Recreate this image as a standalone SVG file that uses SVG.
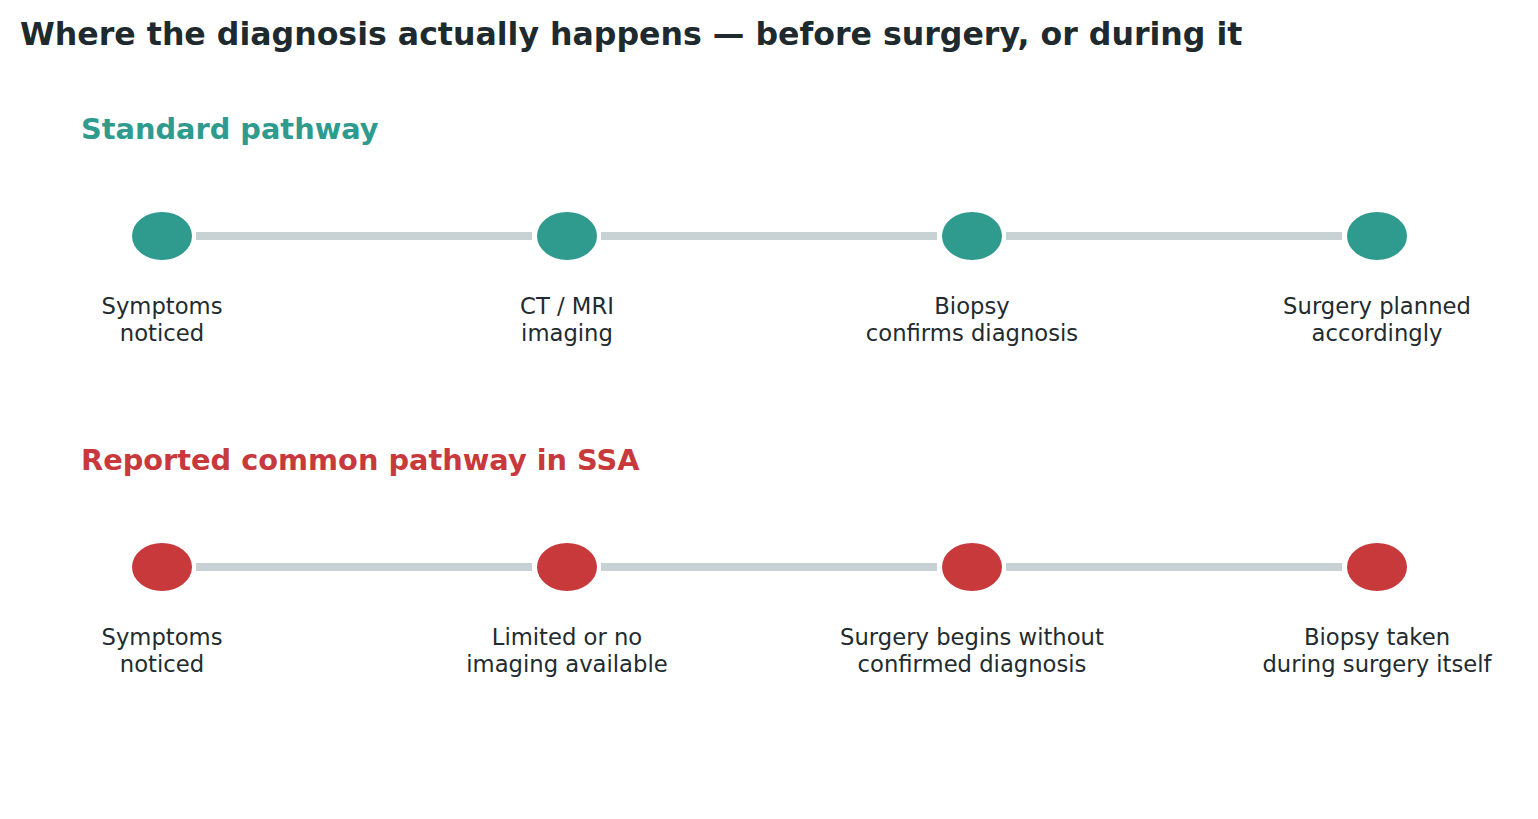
<svg xmlns="http://www.w3.org/2000/svg" width="1538" height="819" viewBox="0 0 1538 819">
<style>
.title{font-family:"DejaVu Sans",sans-serif;font-weight:bold;font-size:31.6px;fill:#1e2a2e}
.head{font-family:"DejaVu Sans",sans-serif;font-weight:bold;font-size:28.8px}
.lbl{font-family:"DejaVu Sans",sans-serif;font-size:22.7px;fill:#222b2f;text-anchor:middle}
.conn{stroke:#c8d1d3;stroke-width:8;fill:none}
.teal{fill:#2e9b8e}
.red{fill:#c8393c}
</style>
<rect width="1538" height="819" fill="#ffffff"/>
<text class="title" x="20" y="45">Where the diagnosis actually happens — before surgery, or during it</text>
<text class="head" x="81" y="139" fill="#2e9b8e">Standard pathway</text>
<text class="head" x="81" y="470" fill="#c8393c">Reported common pathway in SSA</text>
<g id="connectors">
<line class="conn" x1="196" y1="236" x2="532" y2="236"/>
<line class="conn" x1="601" y1="236" x2="937" y2="236"/>
<line class="conn" x1="1006" y1="236" x2="1342" y2="236"/>
<line class="conn" x1="196" y1="567" x2="532" y2="567"/>
<line class="conn" x1="601" y1="567" x2="937" y2="567"/>
<line class="conn" x1="1006" y1="567" x2="1342" y2="567"/>
</g>
<g id="s1"><ellipse class="teal" cx="162" cy="236" rx="30" ry="24"/><text class="lbl" x="162" y="314">Symptoms</text><text class="lbl" x="162" y="341">noticed</text></g>
<g id="s2"><ellipse class="teal" cx="567" cy="236" rx="30" ry="24"/><text class="lbl" x="567" y="314">CT / MRI</text><text class="lbl" x="567" y="341">imaging</text></g>
<g id="s3"><ellipse class="teal" cx="972" cy="236" rx="30" ry="24"/><text class="lbl" x="972" y="314">Biopsy</text><text class="lbl" x="972" y="341">confirms diagnosis</text></g>
<g id="s4"><ellipse class="teal" cx="1377" cy="236" rx="30" ry="24"/><text class="lbl" x="1377" y="314">Surgery planned</text><text class="lbl" x="1377" y="341">accordingly</text></g>
<g id="r1"><ellipse class="red" cx="162" cy="567" rx="30" ry="24"/><text class="lbl" x="162" y="645">Symptoms</text><text class="lbl" x="162" y="672">noticed</text></g>
<g id="r2"><ellipse class="red" cx="567" cy="567" rx="30" ry="24"/><text class="lbl" x="567" y="645">Limited or no</text><text class="lbl" x="567" y="672">imaging available</text></g>
<g id="r3"><ellipse class="red" cx="972" cy="567" rx="30" ry="24"/><text class="lbl" x="972" y="645">Surgery begins without</text><text class="lbl" x="972" y="672">confirmed diagnosis</text></g>
<g id="r4"><ellipse class="red" cx="1377" cy="567" rx="30" ry="24"/><text class="lbl" x="1377" y="645">Biopsy taken</text><text class="lbl" x="1377" y="672">during surgery itself</text></g>
</svg>
